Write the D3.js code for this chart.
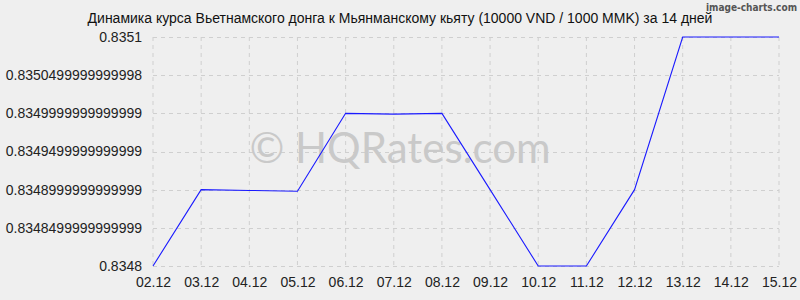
<!DOCTYPE html>
<html>
<head>
<meta charset="utf-8">
<script src="https://cdn.jsdelivr.net/npm/d3@7"></script>
<style>
  body { margin: 0; background: #efefef; }
  svg { display: block; font-family: "Liberation Sans", Arial, sans-serif; }
</style>
</head>
<body>
<div id="chart"></div>
<script>
var dates = ['02.12', '03.12', '04.12', '05.12', '06.12', '07.12', '08.12',
             '09.12', '10.12', '11.12', '12.12', '13.12', '14.12', '15.12'];
var rates = [0.8348, 0.8349, 0.834899, 0.834898, 0.8350, 0.834999, 0.8350,
             0.8349, 0.8348, 0.8348, 0.8349, 0.8351, 0.8351, 0.8351];
var yTicks = [0.8348, 0.83485, 0.8349, 0.83495, 0.8350, 0.83505, 0.8351];
var yTickLabels = ['0.8348', '0.8348499999999999', '0.8348999999999999',
                   '0.8349499999999999', '0.8349999999999999', '0.8350499999999998', '0.8351'];
var title = 'Динамика курса Вьетнамского донга к Мьянманскому кьяту (10000 VND / 1000 MMK) за 14 дней';

var w = 800, h = 300;
var svg = d3.select('#chart').append('svg')
    .attr('width', w).attr('height', h);

svg.append('rect').attr('width', w).attr('height', h).attr('fill', '#efefef');

var x = d3.scalePoint().domain(dates).range([153, 779]);
var y = d3.scaleLinear().domain([0.8348, 0.8351]).range([266, 37]);

// grid
svg.append('g').selectAll('line.v')
    .data(dates).enter().append('line')
    .attr('x1', function(d) { return x(d); })
    .attr('x2', function(d) { return x(d); })
    .attr('y1', 37).attr('y2', 266)
    .attr('stroke', '#cfcfcf').attr('stroke-dasharray', '4,4');
svg.append('g').selectAll('line.h')
    .data(yTicks).enter().append('line')
    .attr('x1', 153).attr('x2', 779)
    .attr('y1', function(d) { return Math.round(y(d)) + 0.5; })
    .attr('y2', function(d) { return Math.round(y(d)) + 0.5; })
    .attr('stroke', '#cfcfcf').attr('stroke-dasharray', '4,4');

// watermark
svg.append('text')
    .attr('x', 400).attr('y', 163)
    .attr('text-anchor', 'middle')
    .style('font-family', 'Lato, sans-serif')
    .style('font-size', '42px')
    .attr('fill', '#c9c9c9')
    .text('© HQRates.com');

// axes labels
var xAxis = d3.axisBottom(x).tickSize(0).tickPadding(11);
var gx = svg.append('g').attr('transform', 'translate(0,266)').call(xAxis);
gx.select('.domain').remove();
gx.selectAll('text').style('font-size', '14px').attr('fill', '#222')
    .style('font-family', '"Liberation Sans", Arial, sans-serif');

var yAxis = d3.axisLeft(y).tickValues(yTicks).tickSize(0).tickPadding(11)
    .tickFormat(function(d, i) { return yTickLabels[i]; });
var gy = svg.append('g').attr('transform', 'translate(153,0)').call(yAxis);
gy.select('.domain').remove();
gy.selectAll('text').style('font-size', '14px').attr('fill', '#222')
    .style('font-family', '"Liberation Sans", Arial, sans-serif');

// line
var line = d3.line()
    .x(function(d, i) { return x(dates[i]); })
    .y(function(d) { return y(d); });
svg.append('path').datum(rates)
    .attr('d', line)
    .attr('fill', 'none')
    .attr('stroke', '#1a1aff')
    .attr('stroke-width', 1.1);

// title
svg.append('text')
    .attr('x', 400).attr('y', 23)
    .attr('text-anchor', 'middle')
    .style('font-size', '14px')
    .attr('fill', '#111')
    .text(title);

svg.append('text')
    .attr('x', 797).attr('y', 11)
    .attr('text-anchor', 'end')
    .style('font-family', '"DejaVu Sans Condensed", "DejaVu Sans", sans-serif')
    .style('font-size', '10px')
    .style('font-weight', 'bold')
    .attr('fill', '#555')
    .text('image-charts.com');
</script>
</body>
</html>
